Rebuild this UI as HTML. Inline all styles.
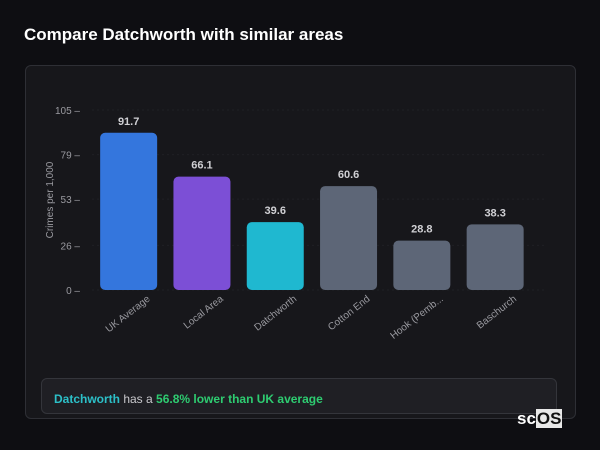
<!DOCTYPE html>
<html><head><meta charset="utf-8"><style>
body{margin:0;width:600px;height:450px;background:#0e0e12;font-family:"Liberation Sans",sans-serif;overflow:hidden;position:relative}
h1{position:absolute;left:24px;top:25px;margin:0;font-size:17px;font-weight:bold;color:#fff}
.card{position:absolute;left:25px;top:65px;width:549px;height:352px;background:#17171b;border:1px solid #2e2f35;border-radius:6px}
.info{position:absolute;left:41px;top:378px;width:516px;height:36px;background:#1f1f24;border:1px solid #34353b;border-radius:6px;box-sizing:border-box;padding:13px 12px;font-size:12px;color:#c8c8cc}
.g{color:#2ecc71;font-weight:bold}.t{color:#2cc0c8;font-weight:bold}
.logo{position:absolute;left:517px;top:409px;font-size:17px;font-weight:bold;color:#fff}
.logo span{background:#e8e8e8;color:#111;padding:0 1px}
</style></head><body>
<h1>Compare Datchworth with similar areas</h1>
<div class="card"></div>
<svg id="c" width="600" height="450" style="position:absolute;left:0;top:0"></svg>
<div class="info"><span class="t">Datchworth</span> has a <span class="g">56.8% lower than UK average</span></div>
<div class="logo">sc<span>OS</span></div>
<script>
const categories=["UK Average","Local Area","Datchworth","Cotton End","Hook (Pemb...","Baschurch"];
const values=[91.7,66.1,39.6,60.6,28.8,38.3];
const colors=["#3476dd","#7c4fd6","#1fb8d0","#5d6677","#5d6677","#5d6677"];
const ticks=[0,26,53,79,105];
const svg=document.getElementById('c');const NS="http://www.w3.org/2000/svg";
const y0=290,y1=110,ymax=105,x0=92,band=73.3,bw=57;
const ys=v=>y0-(v/ymax)*(y0-y1);
function el(t,a,txt){const e=document.createElementNS(NS,t);for(const k in a)e.setAttribute(k,a[k]);if(txt!==undefined)e.textContent=txt;svg.appendChild(e);return e;}
ticks.forEach(t=>{
 const g=el('line',{x1:x0,x2:545,y1:ys(t),y2:ys(t),stroke:'#1f2025','stroke-dasharray':'2,3'});
 
 const l=el('text',{x:80,y:ys(t)+4,'text-anchor':'end','font-size':'10',fill:'#9a9aa0','font-family':'Liberation Sans'},t+'  –');
 
});
const yt=el('text',{transform:'translate(53,200) rotate(-90)','text-anchor':'middle','font-size':'10',fill:'#9a9aa0','font-family':'Liberation Sans'},'Crimes per 1,000');

categories.forEach((c,i)=>{
 const x=x0+band*i+(band-bw)/2,v=values[i];
 const r=el('rect',{x:x,y:ys(v),width:bw,height:y0-ys(v),rx:5,fill:colors[i]});
 
 const t=el('text',{x:x+bw/2,y:ys(v)-8,'text-anchor':'middle','font-size':'11','font-weight':'bold',fill:'#d0d0d4','font-family':'Liberation Sans'},v.toFixed(1));
 
 const cx=x+bw/2+22;
 const lb=el('text',{transform:`translate(${cx},${y0+10}) rotate(-38)`,'text-anchor':'end','font-size':'10',fill:'#9a9aa0','font-family':'Liberation Sans'},c);
 
});
</script>
</body></html>
